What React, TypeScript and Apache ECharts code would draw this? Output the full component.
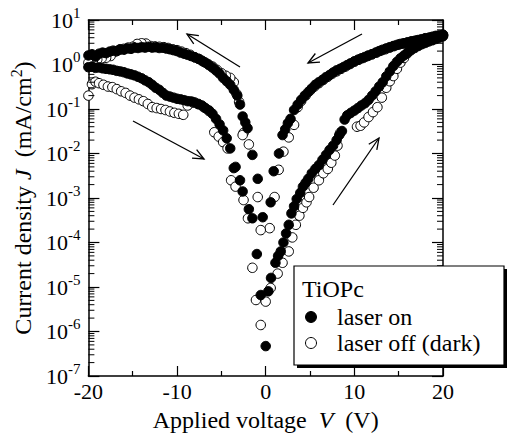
import React, { useEffect, useRef } from "react";
import * as echarts from "echarts";

const FONT = "Liberation Serif";

// axis ranges / ticks
const xMin = -20;
const xMax = 20;
const xInterval = 10;
const yMin = 1e-7;
const yMax = 10;
const minorDecades = [-7, -6, -5, -4, -3, -2, -1, 0];
const minorMultipliers = [2, 3, 4, 5, 6, 7, 8, 9];

// laser on (filled) : [V, J (mA/cm2)]
const onLowerLeft: [number, number][] = [
  [-20, 0.87], [-19.6, 0.9], [-19.2, 0.84], [-18.8, 0.86], [-18.4, 0.82], [-18.0, 0.8], [-17.6, 0.78],
  [-17.2, 0.76], [-16.8, 0.72], [-16.4, 0.7], [-16.0, 0.67], [-15.6, 0.63], [-15.2, 0.6], [-14.8, 0.57],
  [-14.4, 0.53], [-14.0, 0.49], [-13.6, 0.44], [-13.2, 0.4], [-12.8, 0.35], [-12.4, 0.3], [-12.0, 0.27],
  [-11.6, 0.23], [-11.2, 0.2], [-10.8, 0.19], [-10.4, 0.18], [-10.0, 0.17], [-9.6, 0.165], [-9.2, 0.158],
  [-8.8, 0.15], [-8.4, 0.148], [-8.0, 0.14], [-7.6, 0.13], [-7.2, 0.12], [-6.8, 0.105], [-6.4, 0.093],
  [-6.0, 0.078], [-5.6, 0.06], [-5.2, 0.045], [-4.8, 0.033], [-4.4, 0.022], [-4.0, 0.013], [-3.6, 0.0047],
  [-3.4, 0.005], [-2.9, 0.0025], [-2.6, 0.0014], [-1.9, 0.00056], [-1.5, 0.00035], [-1.0, 0.000055],
  [-0.56, 0.0000066], [0.0, 0.00000047],
];
const onLowerRight: [number, number][] = [
  [0.3, 0.000008], [0.6, 0.000016], [1.1, 0.000035], [1.4, 0.00005], [1.7, 0.000063], [2.0, 0.0001],
  [2.3, 0.00016], [2.6, 0.00025], [2.9, 0.00045], [3.2, 0.00065], [3.5, 0.00095], [3.9, 0.0013],
  [4.2, 0.0018], [4.5, 0.0022], [4.8, 0.0027], [5.2, 0.0036], [5.6, 0.0045], [6.0, 0.0055], [6.4, 0.0072],
  [6.8, 0.0093], [7.2, 0.012], [7.6, 0.015], [8.0, 0.02], [8.3, 0.026], [8.6, 0.032], [8.9, 0.058],
  [9.2, 0.072], [9.6, 0.082], [10.0, 0.092], [10.4, 0.105], [10.8, 0.12], [11.2, 0.135], [11.6, 0.16],
  [12.0, 0.2], [12.4, 0.25], [12.8, 0.32], [13.2, 0.4], [13.6, 0.54], [14.0, 0.7], [14.4, 0.92],
  [14.8, 1.15], [15.2, 1.38], [15.6, 1.6], [16.0, 1.85], [16.4, 2.1], [16.8, 2.35], [17.2, 2.6],
  [17.6, 2.85], [18.0, 3.05], [18.4, 3.3], [18.8, 3.5], [19.2, 3.75], [19.6, 4.0], [20.0, 4.3],
];
const onUpperRight: [number, number][] = [
  [20, 4.7], [19.6, 4.5], [19.2, 4.4], [18.8, 4.2], [18.4, 4.0], [18.0, 3.9], [17.6, 3.7], [17.2, 3.55],
  [16.8, 3.4], [16.4, 3.3], [16.0, 3.15], [15.6, 3.0], [15.2, 2.9], [14.8, 2.75], [14.4, 2.6], [14.0, 2.45],
  [13.6, 2.3], [13.2, 2.15], [12.8, 2.0], [12.4, 1.85], [12.0, 1.7], [11.6, 1.6], [11.2, 1.48], [10.8, 1.38],
  [10.4, 1.28], [10.0, 1.18], [9.6, 1.07], [9.2, 0.97], [8.8, 0.88], [8.4, 0.8], [8.0, 0.74], [7.6, 0.66],
  [7.2, 0.58], [6.8, 0.52], [6.4, 0.45], [6.0, 0.4], [5.6, 0.35], [5.2, 0.29], [4.8, 0.24], [4.4, 0.2],
  [4.0, 0.16], [3.6, 0.125], [3.2, 0.095], [2.8, 0.06], [2.5, 0.048], [2.2, 0.035], [1.9, 0.026],
  [1.5, 0.01], [0.9, 0.004], [0.56, 0.0008], [-0.34, 0.00037],
];
const onUpperLeft: [number, number][] = [
  [-0.9, 0.0027], [-1.5, 0.0093], [-2.05, 0.037], [-2.3, 0.05], [-2.6, 0.068], [-2.9, 0.126], [-3.2, 0.2],
  [-3.6, 0.27], [-4.0, 0.35], [-4.4, 0.42], [-4.8, 0.5], [-5.2, 0.62], [-5.6, 0.73], [-6.0, 0.85],
  [-6.4, 0.97], [-6.8, 1.1], [-7.2, 1.22], [-7.6, 1.35], [-8.0, 1.45], [-8.4, 1.55], [-8.8, 1.65],
  [-9.2, 1.75], [-9.6, 1.85], [-10.0, 2.0], [-10.4, 2.1], [-10.8, 2.2], [-11.2, 2.28], [-11.6, 2.38],
  [-12.0, 2.35], [-12.4, 2.45], [-12.8, 2.4], [-13.2, 2.5], [-13.6, 2.4], [-14.0, 2.45], [-14.4, 2.35],
  [-14.8, 2.4], [-15.2, 2.25], [-15.6, 2.3], [-16.0, 2.15], [-16.4, 2.2], [-16.8, 2.0], [-17.2, 2.05],
  [-17.6, 1.95], [-18.0, 1.8], [-18.4, 1.85], [-18.8, 1.75], [-19.2, 1.5], [-19.6, 1.7], [-20, 1.6],
];

// laser off (dark) (open) : [V, J (mA/cm2)]
const offLowerLeft: [number, number][] = [
  [-20, 0.2], [-19.6, 0.36], [-19.2, 0.41], [-18.8, 0.38], [-18.3, 0.35], [-17.8, 0.32], [-17.3, 0.31],
  [-16.8, 0.28], [-16.3, 0.25], [-15.8, 0.23], [-15.3, 0.2], [-14.8, 0.18], [-14.3, 0.165], [-13.8, 0.15],
  [-13.3, 0.13], [-12.8, 0.11], [-12.3, 0.105], [-11.8, 0.1], [-11.3, 0.095], [-10.8, 0.088], [-10.3, 0.082],
  [-9.8, 0.078], [-9.3, 0.074], [-8.8, 0.12], [-8.2, 0.14], [-7.6, 0.128], [-7.0, 0.11], [-6.4, 0.09],
  [-5.8, 0.03], [-5.3, 0.024], [-4.8, 0.018], [-4.3, 0.013], [-3.9, 0.0025], [-3.4, 0.0018], [-2.5, 0.0009],
  [-2.0, 0.00035], [-1.5, 0.000027], [-1.1, 0.0000051], [-0.56, 0.0000014],
];
const offLowerRight: [number, number][] = [
  [0.0, 0.0000047], [0.56, 0.0000095], [1.35, 0.00002], [1.9, 0.000035], [2.6, 0.000063], [3.0, 0.00013],
  [3.4, 0.00025], [3.8, 0.0004], [4.2, 0.0006], [4.6, 0.0008], [4.9, 0.00105], [5.4, 0.0017], [6.0, 0.0025],
  [6.5, 0.0036], [7.0, 0.0045], [7.4, 0.0062], [7.8, 0.009], [8.1, 0.015], [8.4, 0.029], [10.3, 0.04],
  [10.7, 0.042], [11.1, 0.05], [11.6, 0.066], [12.1, 0.085], [12.6, 0.11], [13.1, 0.18], [13.6, 0.3],
  [14.0, 0.42], [14.4, 0.55], [14.8, 0.8], [15.2, 1.1], [15.6, 1.4], [16.0, 1.8], [16.5, 2.3], [17.0, 2.7],
  [17.5, 3.0], [18.0, 3.3], [18.5, 3.6], [19.0, 3.9], [19.5, 4.2], [20, 4.5],
];
const offUpperRight: [number, number][] = [
  [20, 4.6], [19.5, 4.4], [19.0, 4.2], [18.5, 4.0], [18.0, 3.8], [17.5, 3.6], [17.0, 3.45], [16.5, 3.3],
  [16.0, 3.1], [15.5, 2.95], [15.0, 2.8], [14.5, 2.6], [14.0, 2.4], [13.5, 2.2], [13.0, 2.05], [12.5, 1.85],
  [12.0, 1.7], [11.5, 1.55], [11.0, 1.4], [10.5, 1.28], [10.0, 1.15], [9.5, 1.02], [9.0, 0.9], [8.5, 0.8],
  [8.0, 0.7], [7.5, 0.62], [7.0, 0.53], [6.5, 0.45], [6.0, 0.38], [5.5, 0.32], [5.0, 0.26], [4.5, 0.2],
  [4.0, 0.15], [3.6, 0.11], [3.2, 0.044], [2.6, 0.023], [2.0, 0.011], [1.46, 0.0043], [1.0, 0.00105],
  [0.45, 0.00021], [-0.56, 0.00019], [-0.9, 0.00105],
];
const offUpperLeft: [number, number][] = [
  [-1.9, 0.016], [-2.5, 0.029], [-2.6, 0.026], [-3.0, 0.145], [-3.3, 0.22], [-3.6, 0.4], [-4.0, 0.5],
  [-4.5, 0.56], [-5.0, 0.64], [-5.5, 0.76], [-6.0, 0.9], [-6.5, 1.02], [-7.0, 1.15], [-7.5, 1.32], [-8.0, 1.45],
  [-8.5, 1.65], [-9.0, 1.8], [-9.5, 1.95], [-10.0, 2.1], [-10.5, 2.2], [-11.0, 2.35], [-11.5, 2.45],
  [-12.0, 2.5], [-12.5, 2.55], [-13.0, 2.6], [-13.5, 2.95], [-14.0, 3.0], [-14.5, 2.9], [-15.0, 2.5],
  [-15.5, 2.4], [-16.0, 2.25], [-16.5, 2.15], [-17.0, 1.95], [-17.5, 1.55], [-18.0, 1.42], [-18.5, 1.38],
  [-19.0, 1.3], [-19.5, 1.2], [-20, 1.1],
];

const seriesNames = ["laser on", "laser off (dark)"];
const legendTitle = "TiOPc";

// annotation arrows (page pixels): [tailX, tailY, tipX, tipY]
const arrows: [number, number, number, number][] = [
  [240, 67, 187, 34],
  [362, 34, 308, 63],
  [133, 121, 204, 159],
  [333, 205, 379, 138],
];

function arrowGraphics() {
  const els: any[] = [];
  const headLen = 12;
  const ang = (24 * Math.PI) / 180;
  arrows.forEach(([x1, y1, x2, y2]) => {
    const dx = x1 - x2;
    const dy = y1 - y2;
    const len = Math.sqrt(dx * dx + dy * dy);
    const ux = dx / len;
    const uy = dy / len;
    const w1 = [x2 + headLen * (ux * Math.cos(ang) - uy * Math.sin(ang)), y2 + headLen * (ux * Math.sin(ang) + uy * Math.cos(ang))];
    const w2 = [x2 + headLen * (ux * Math.cos(-ang) - uy * Math.sin(-ang)), y2 + headLen * (ux * Math.sin(-ang) + uy * Math.cos(-ang))];
    els.push({ type: "line", z: 30, shape: { x1, y1, x2, y2 }, style: { stroke: "#000", lineWidth: 1.3 } });
    els.push({ type: "polyline", z: 30, shape: { points: [w1, [x2, y2], w2] }, style: { stroke: "#000", fill: null, lineWidth: 1.3 } });
  });
  return els;
}

export default function App() {
  const ref = useRef<HTMLDivElement>(null);
  useEffect(() => {
    document.body.style.margin = "0";
    if (!ref.current) return;
    const chart = echarts.init(ref.current, null, { renderer: "svg" });

    const minorTickValues: number[] = [];
    minorDecades.forEach((d) => minorMultipliers.forEach((m) => minorTickValues.push(m * Math.pow(10, d))));

    const axisLineStyle = { color: "#000", width: 1.5 };
    const xCommon = {
      type: "value",
      min: xMin,
      max: xMax,
      interval: xInterval,
      axisLine: { show: true, onZero: false, lineStyle: axisLineStyle },
      axisTick: { show: true, inside: true, length: 10, lineStyle: { color: "#000", width: 1.2 } },
      minorTick: { show: true, splitNumber: 2, length: 5, lineStyle: { color: "#000", width: 1.2 } },
      splitLine: { show: false },
      minorSplitLine: { show: false },
    };
    const yCommon = {
      type: "log",
      logBase: 10,
      min: yMin,
      max: yMax,
      splitNumber: 8,
      axisLine: { show: true, onZero: false, lineStyle: axisLineStyle },
      axisTick: { show: true, inside: true, length: 11, lineStyle: { color: "#000", width: 1.2 } },
      splitLine: { show: false },
    };

    const option: any = {
      animation: false,
      backgroundColor: "#fff",
      textStyle: { fontFamily: FONT },
      grid: { left: 87, top: 20, width: 356, height: 356, containLabel: false },
      xAxis: [
        {
          ...xCommon,
          position: "bottom",
          axisLabel: { show: true, margin: 4, fontFamily: FONT, fontSize: 22, color: "#000" },
          name: "{n|Applied voltage  }{i|V}{n|  (V)}",
          nameLocation: "middle",
          nameGap: 32,
          nameTextStyle: {
            fontFamily: FONT,
            fontSize: 24,
            color: "#000",
            rich: {
              n: { fontFamily: FONT, fontSize: 24, color: "#000" },
              i: { fontFamily: FONT, fontSize: 24, color: "#000", fontStyle: "italic" },
            },
          },
        },
        { ...xCommon, position: "top", axisLabel: { show: false } },
      ],
      yAxis: [
        {
          ...yCommon,
          position: "left",
          axisLabel: {
            show: true,
            margin: 8,
            fontFamily: FONT,
            formatter: (v: number) => `{b|10}{s|${Math.round(Math.log10(v))}}`,
            rich: {
              b: { fontFamily: FONT, fontSize: 22, color: "#000" },
              s: { fontFamily: FONT, fontSize: 15, color: "#000", padding: [0, 0, 15, 0] },
            },
          },
          name: "{n|Current density }{i|J}{n|  (mA/cm}{s|2}{n|)}",
          nameLocation: "middle",
          nameGap: 46,
          nameTextStyle: {
            fontFamily: FONT,
            fontSize: 24,
            color: "#000",
            rich: {
              n: { fontFamily: FONT, fontSize: 24, color: "#000" },
              i: { fontFamily: FONT, fontSize: 24, color: "#000", fontStyle: "italic" },
              s: { fontFamily: FONT, fontSize: 16, color: "#000", padding: [0, 0, 14, 0] },
            },
          },
        },
        { ...yCommon, position: "right", axisLabel: { show: false } },
      ],
      legend: {
        data: seriesNames,
        orient: "vertical",
        left: 294,
        top: 266,
        padding: [39, 9, 10, 11],
        itemGap: 2,
        itemWidth: 42,
        itemHeight: 11,
        icon: "circle",
        textStyle: { fontFamily: FONT, fontSize: 24, color: "#000" },
        itemStyle: { borderWidth: 1 },
        z: 40,
      },
      graphic: [
        { type: "rect", z: 35, shape: { x: 297, y: 269, width: 210, height: 99 }, style: { fill: "#000" } },
        { type: "rect", z: 36, shape: { x: 294, y: 266, width: 210, height: 99 }, style: { fill: "#fff", stroke: "#000", lineWidth: 1.2 } },
        {
          type: "text",
          z: 41,
          x: 302,
          y: 289,
          style: { text: legendTitle, fontFamily: FONT, fontSize: 24, fill: "#000", verticalAlign: "middle", textVerticalAlign: "middle" },
        },
        ...arrowGraphics(),
      ],
      series: [
        {
          name: "minor ticks",
          type: "custom",
          silent: true,
          xAxisIndex: 0,
          yAxisIndex: 0,
          clip: false,
          z: 5,
          encode: { x: 0, y: 1 },
          data: minorTickValues.map((v) => [xMin, v]),
          renderItem: (params: any, api: any) => {
            const cs = params.coordSys;
            const p = api.coord([api.value(0), api.value(1)]);
            const y = p[1];
            return {
              type: "group",
              children: [
                { type: "line", shape: { x1: cs.x, y1: y, x2: cs.x + 6, y2: y }, style: { stroke: "#000", lineWidth: 1 } },
                { type: "line", shape: { x1: cs.x + cs.width - 6, y1: y, x2: cs.x + cs.width, y2: y }, style: { stroke: "#000", lineWidth: 1 } },
              ],
            };
          },
        },
        {
          name: seriesNames[1],
          type: "scatter",
          xAxisIndex: 0,
          yAxisIndex: 0,
          clip: false,
          symbol: "circle",
          symbolSize: 9.5,
          z: 2,
          itemStyle: { color: "#fff", borderColor: "#000", borderWidth: 1, opacity: 1 },
          data: [...offLowerLeft, ...offLowerRight, ...offUpperRight, ...offUpperLeft],
        },
        {
          name: seriesNames[0],
          type: "scatter",
          xAxisIndex: 0,
          yAxisIndex: 0,
          clip: false,
          symbol: "circle",
          symbolSize: 9.5,
          z: 3,
          itemStyle: { color: "#000", borderColor: "#000", borderWidth: 1, opacity: 1 },
          data: [...onLowerLeft, ...onLowerRight, ...onUpperRight, ...onUpperLeft],
        },
      ],
    };
    chart.setOption(option);
    return () => chart.dispose();
  }, []);
  return <div ref={ref} style={{ position: "absolute", left: 0, top: 0, width: 507, height: 439 }} />;
}
